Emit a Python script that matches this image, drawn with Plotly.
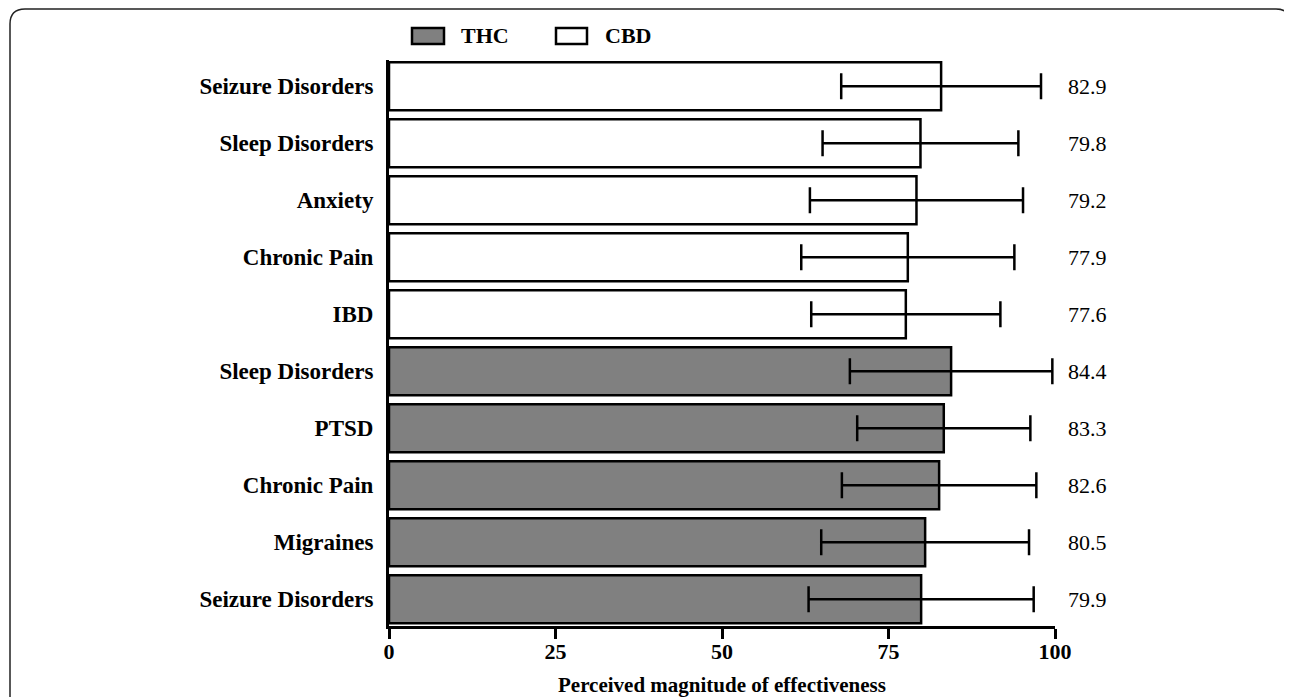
import plotly.graph_objects as go

# Data (listed bottom-to-top within each group)
thc_conditions = ["Seizure Disorders", "Migraines", "Chronic Pain", "PTSD", "Sleep Disorders"]
thc_values = [79.9, 80.5, 82.6, 83.3, 84.4]
thc_err = [16.9, 15.6, 14.6, 13.0, 15.2]

cbd_conditions = ["IBD", "Chronic Pain", "Anxiety", "Sleep Disorders", "Seizure Disorders"]
cbd_values = [77.6, 77.9, 79.2, 79.8, 82.9]
cbd_err = [14.2, 16.0, 16.0, 14.7, 15.0]

x_ticks = [0, 25, 50, 75, 100]
x_title = "Perceived magnitude of effectiveness"

# Page has an 8px body margin; work in screen pixels and convert.
OFF = 8
W, H = 1292 - OFF, 697 - OFF
L, R, T, B = 389 - OFF, 1055 - OFF, 60 - OFF, 626 - OFF
SERIF = "Liberation Serif, Times New Roman, serif"


def px(x):
    return (x - OFF - L) / (R - L)


def py(y):
    return (B - (y - OFF)) / (B - T)


thc_pos = list(range(len(thc_values)))
cbd_pos = list(range(len(thc_values), len(thc_values) + len(cbd_values)))

fig = go.Figure()
fig.add_trace(go.Bar(
    x=thc_values, y=thc_pos, orientation="h", name="THC", width=0.84,
    marker=dict(color="#808080", line=dict(color="black", width=2.5)),
    error_x=dict(type="data", array=thc_err, color="black", thickness=2.5, width=13),
    showlegend=False,
))
fig.add_trace(go.Bar(
    x=cbd_values, y=cbd_pos, orientation="h", name="CBD", width=0.84,
    marker=dict(color="white", line=dict(color="black", width=2.5)),
    error_x=dict(type="data", array=cbd_err, color="black", thickness=2.5, width=13),
    showlegend=False,
))

annotations = []
for pos, v in zip(thc_pos + cbd_pos, thc_values + cbd_values):
    annotations.append(dict(
        x=px(1066), xref="paper", y=pos, yref="y", text=f"{v:.1f}",
        showarrow=False, xanchor="left", yanchor="middle",
        font=dict(family=SERIF, size=22, color="black"),
    ))

# Legend (drawn manually)
shapes = [
    dict(type="rect", xref="paper", yref="paper", x0=px(412), x1=px(444), y0=py(44), y1=py(28),
         fillcolor="#808080", line=dict(color="black", width=2.5)),
    dict(type="rect", xref="paper", yref="paper", x0=px(556), x1=px(587), y0=py(44), y1=py(28),
         fillcolor="white", line=dict(color="black", width=2.5)),
]
annotations.append(dict(x=px(459), xref="paper", y=py(36), yref="paper", text="<b>THC</b>",
                        showarrow=False, xanchor="left", yanchor="middle",
                        font=dict(family=SERIF, size=22, color="black")))
annotations.append(dict(x=px(603), xref="paper", y=py(36), yref="paper", text="<b>CBD</b>",
                        showarrow=False, xanchor="left", yanchor="middle",
                        font=dict(family=SERIF, size=22, color="black")))

# Rounded outer frame (screen pixels)
r = 15
x0f, x1f, y0f, y1f = 10, 1291, 9, 720
path = (f"M {px(x0f)},{py(y1f)} L {px(x0f)},{py(y0f + r)} "
        f"Q {px(x0f)},{py(y0f)} {px(x0f + r)},{py(y0f)} "
        f"L {px(x1f - r)},{py(y0f)} Q {px(x1f)},{py(y0f)} {px(x1f)},{py(y0f + r)} "
        f"L {px(x1f)},{py(y1f)}")
shapes.append(dict(type="path", xref="paper", yref="paper", path=path,
                   line=dict(color="#222222", width=1.5)))

fig.update_layout(
    width=W, height=H,
    margin=dict(l=L, r=W - R, t=T, b=H - B, autoexpand=False),
    paper_bgcolor="white", plot_bgcolor="white",
    annotations=annotations,
    shapes=shapes,
    xaxis=dict(
        range=[0, 100], tickvals=x_ticks, ticktext=[f"<b>{t}</b>" for t in x_ticks],
        showline=True, linecolor="black", linewidth=3,
        ticks="outside", ticklen=10, tickwidth=3, tickcolor="black",
        showgrid=False, zeroline=False, automargin=False,
        tickfont=dict(family=SERIF, size=22, color="black"),
        ticklabelstandoff=-6,
        title=dict(text="<b>" + x_title + "</b>", font=dict(family=SERIF, size=21, color="black"),
                   standoff=20),
    ),
    yaxis=dict(
        range=[-0.47, 9.46],
        tickvals=thc_pos + cbd_pos,
        ticktext=[f"<b>{c}</b>" for c in thc_conditions + cbd_conditions],
        showline=True, linecolor="black", linewidth=3,
        ticks="", showgrid=False, zeroline=False, automargin=False,
        tickfont=dict(family=SERIF, size=23, color="black"),
        ticklabelstandoff=8,
    ),
)

fig.write_html("out.html")
